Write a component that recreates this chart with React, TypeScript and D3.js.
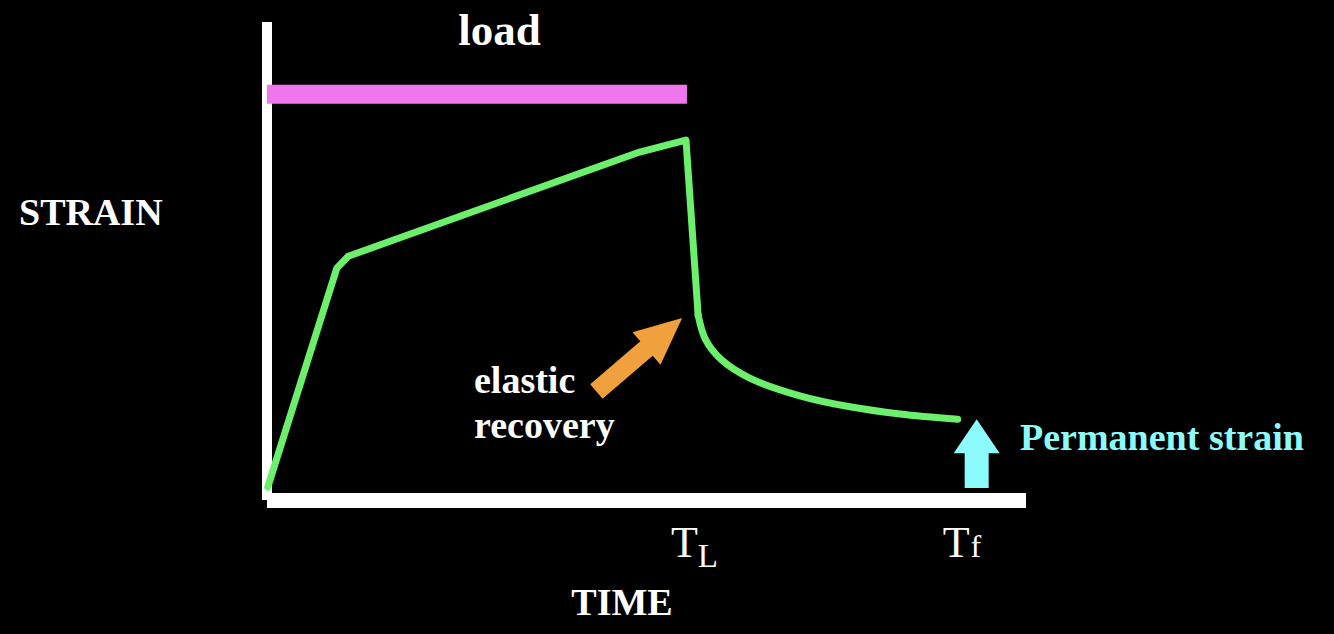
import React from "react";
import * as d3 from "d3";

// strain vs time (arbitrary units 0..100)
const loadingTime = [0.1, 9.2, 10.7, 49.1, 55.2, 56.8];
const loadingStrain = [2.7, 48.5, 51.0, 72.8, 75.3, 38.7];
const recoveryTime = [56.8, 57.8, 59.9, 63.6, 70.2, 76.8, 83.4, 91.0];
const recoveryStrain = [38.7, 33.5, 29.3, 25.5, 21.8, 19.5, 18.0, 16.9];

// load applied from 0 to T_L
const loadStart = 0;
const loadEnd = 55.2;
const loadLevel = 84.9;

const tickTimes = [55.2, 91.0];
const tickMain = ["T", "T"];
const tickSub = ["L", "f"];

// annotation arrows [tail, tip] in data units
const elasticArrow = [[43.4, 22.7], [54.7, 38.1]];
const permanentArrow = [[93.5, 2.5], [93.5, 16.9]];

const W = 1334;
const H = 634;
const serif = "'Liberation Serif', 'Times New Roman', serif";

function arrowPath(x1: number, y1: number, x2: number, y2: number, shaftW: number, headW: number, headL: number) {
  const len = Math.hypot(x2 - x1, y2 - y1);
  const ux = (x2 - x1) / len, uy = (y2 - y1) / len;
  const nx = -uy, ny = ux;
  const bx = x2 - ux * headL, by = y2 - uy * headL;
  const p = [
    [x1 + nx * shaftW / 2, y1 + ny * shaftW / 2],
    [bx + nx * shaftW / 2, by + ny * shaftW / 2],
    [bx + nx * headW / 2, by + ny * headW / 2],
    [x2, y2],
    [bx - nx * headW / 2, by - ny * headW / 2],
    [bx - nx * shaftW / 2, by - ny * shaftW / 2],
    [x1 - nx * shaftW / 2, y1 - ny * shaftW / 2],
  ];
  return "M" + p.map(d => d.join(",")).join("L") + "Z";
}

export default function App() {
  const x = d3.scaleLinear().domain([0, 100]).range([267, 1026]);
  const y = d3.scaleLinear().domain([0, 100]).range([500, 22]);

  const line = d3.line<number>()
    .x(i => x(loadingTime[i]))
    .y(i => y(loadingStrain[i]));
  const curve = d3.line<number>()
    .x(i => x(recoveryTime[i]))
    .y(i => y(recoveryStrain[i]))
    .curve(d3.curveCatmullRom.alpha(0.5));

  const green = "#6cf06c";
  const cyan = "#8cfbfb";

  return (
    <svg width={W} height={H} style={{ position: "absolute", left: 0, top: 0, display: "block" }}>
      <rect width={W} height={H} fill="#000" />

      {/* axes */}
      <line x1={x(0)} x2={x(0)} y1={y(100)} y2={y(0)} stroke="#fff" strokeWidth={10} />
      <line x1={x(0)} x2={x(100)} y1={y(0) + 0.5} y2={y(0) + 0.5} stroke="#fff" strokeWidth={15} />

      {/* load bar */}
      <line x1={x(loadStart)} x2={x(loadEnd) + 1} y1={y(loadLevel)} y2={y(loadLevel)} stroke="#ee76ee" strokeWidth={19} />
      <text x={(x(loadStart) + x(loadEnd)) / 2 + 23} y={45} textAnchor="middle" fill="#fff"
        fontFamily={serif} fontWeight="bold" fontSize={45}>load</text>

      {/* strain curve */}
      <path d={line(d3.range(loadingTime.length)) || ""} fill="none" stroke={green} strokeWidth={7}
        strokeLinejoin="round" strokeLinecap="round" />
      <path d={curve(d3.range(recoveryTime.length)) || ""} fill="none" stroke={green} strokeWidth={7}
        strokeLinejoin="round" strokeLinecap="round" />

      {/* arrows */}
      <path d={arrowPath(x(elasticArrow[0][0]), y(elasticArrow[0][1]), x(elasticArrow[1][0]), y(elasticArrow[1][1]), 19, 43, 47)}
        fill="#f0a03c" />
      <path d={arrowPath(x(permanentArrow[0][0]), y(permanentArrow[0][1]), x(permanentArrow[1][0]), y(permanentArrow[1][1]), 24, 46, 34)}
        fill={cyan} />

      {/* labels */}
      <text x={19} y={225} fill="#fff" fontFamily={serif} fontWeight="bold" fontSize={38}>STRAIN</text>
      <text x={622} y={615} textAnchor="middle" fill="#fff" fontFamily={serif} fontWeight="bold" fontSize={38}>TIME</text>
      <text fill="#fff" fontFamily={serif} fontWeight="bold" fontSize={38}>
        <tspan x={474} y={393}>elastic</tspan>
        <tspan x={474} y={438}>recovery</tspan>
      </text>
      <text x={1020} y={450} fill={cyan} fontFamily={serif} fontWeight="bold" fontSize={38}>Permanent strain</text>

      {tickTimes.map((t, i) => (
        <text key={i} x={x(t) - 15} y={557} fill="#fff" fontFamily={serif} fontSize={44}>
          {tickMain[i]}
          {tickSub[i] === "L"
            ? <tspan dy={10} fontSize={33}>{tickSub[i]}</tspan>
            : <tspan dx={1} fontSize={32}>{tickSub[i]}</tspan>}
        </text>
      ))}
    </svg>
  );
}
